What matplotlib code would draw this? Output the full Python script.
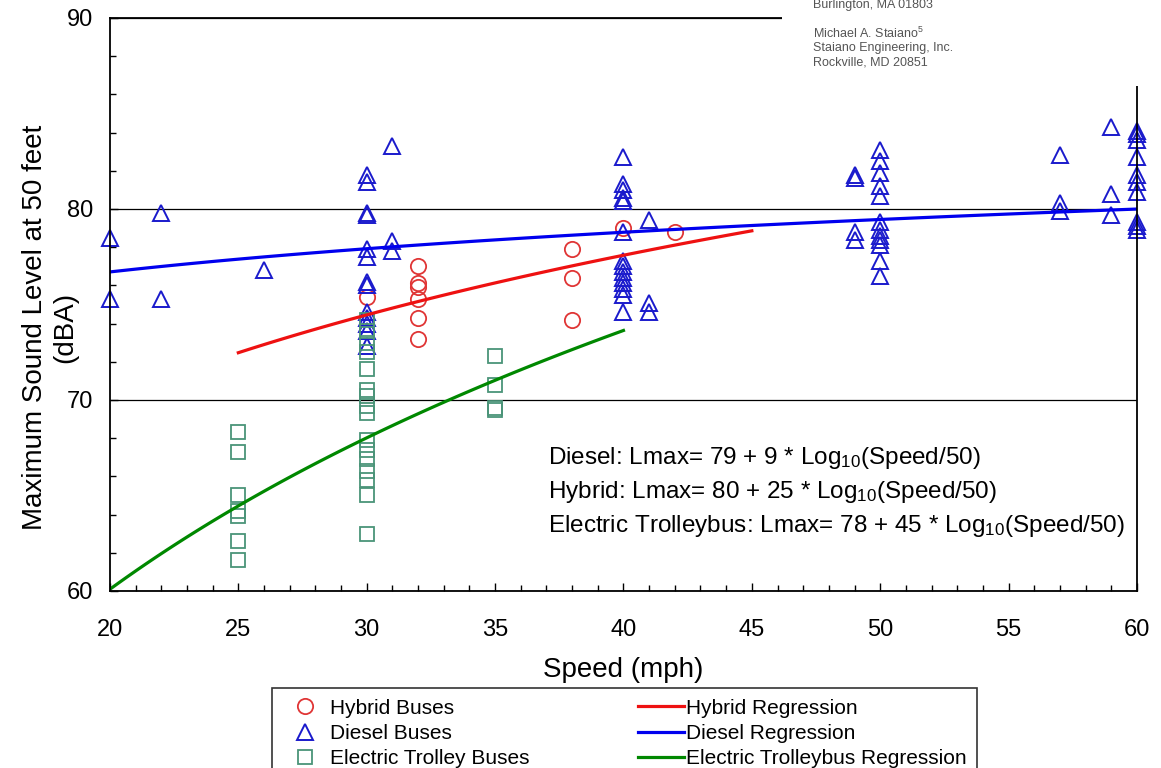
import numpy as np
import matplotlib
matplotlib.use("Agg")
import matplotlib.pyplot as plt
from matplotlib.ticker import MultipleLocator
from matplotlib.patches import Rectangle

plt.rcParams['font.family'] = ['Liberation Sans', 'DejaVu Sans']
plt.rcParams['mathtext.fontset'] = 'custom'
plt.rcParams['mathtext.rm'] = 'Liberation Sans'
plt.rcParams['mathtext.default'] = 'regular'

# measured points (speed mph, Lmax dBA)
hybrid_speed = [30, 32, 32, 32, 32, 32, 32, 38, 38, 38, 40, 42]
hybrid_lmax = [75.4, 77.0, 76.1, 75.9, 75.3, 74.3, 73.2, 77.9, 76.4, 74.2, 79.0, 78.8]

diesel_speed = [20, 20, 22, 22, 26,
                30, 30, 30, 30, 30, 30, 30, 30, 30, 30, 30, 30, 30,
                31, 31, 31,
                40, 40, 40, 40, 40, 40, 40, 40, 40, 40, 40, 40, 40, 40,
                41, 41, 41,
                49, 49, 49, 49,
                50, 50, 50, 50, 50, 50, 50, 50, 50, 50, 50, 50,
                57, 57, 57,
                59, 59, 59,
                60, 60, 60, 60, 60, 60, 60, 60, 60, 60]
diesel_lmax = [78.5, 75.3, 79.8, 75.3, 76.8,
               81.8, 81.4, 79.8, 79.7, 77.9, 77.5, 76.2, 76.0, 74.6, 74.3, 74.0, 73.6, 72.8,
               83.3, 78.3, 77.8,
               82.7, 81.3, 81.0, 80.6, 80.4, 78.8, 77.3, 77.0, 76.7, 76.4, 76.1, 75.8, 75.5, 74.6,
               79.4, 75.1, 74.6,
               81.8, 81.6, 78.8, 78.4,
               83.1, 82.5, 81.9, 81.2, 80.7, 79.3, 78.9, 78.6, 78.4, 78.1, 77.3, 76.5,
               82.8, 80.3, 79.9,
               84.3, 80.8, 79.7,
               84.1, 83.9, 83.6, 82.7, 81.8, 81.4, 80.9, 79.3, 79.1, 78.9]

trolley_speed = [25, 25, 25, 25, 25, 25, 25,
                 30, 30, 30, 30, 30, 30, 30, 30, 30, 30, 30, 30, 30, 30, 30, 30,
                 35, 35, 35, 35]
trolley_lmax = [68.3, 67.3, 65.0, 64.2, 63.9, 62.6, 61.6,
                74.2, 73.6, 73.0, 72.5, 71.6, 70.5, 70.2, 69.7, 69.3,
                67.9, 67.4, 66.9, 66.3, 65.8, 65.0, 63.0,
                72.3, 70.8, 69.6, 69.5]

# regression curves: Lmax = a + b*log10(speed/50), drawn over a speed range
hybrid_fit = (80, 25, 25, 45)
diesel_fit = (79.45, 6.9, 20, 60)
trolley_fit = (78, 45, 20, 40)

fig = plt.figure(figsize=(11.61, 7.68), dpi=100)
ax = fig.add_axes([0.0947, 0.2305, 0.8846, 0.7461])

ax.plot(hybrid_speed, hybrid_lmax, 'o', ls='none', mfc='none', mec='#e03535',
        ms=11, mew=1.3, label='Hybrid Buses', clip_on=False)
ax.plot(diesel_speed, diesel_lmax, '^', ls='none', mfc='none', mec='#1a1acc',
        ms=12, mew=1.4, label='Diesel Buses', clip_on=False)
ax.plot(trolley_speed, trolley_lmax, 's', ls='none', mfc='none', mec='#4a9478',
        ms=10.5, mew=1.3, label='Electric Trolley Buses', clip_on=False)

for (a, b, s0, s1), col, lab in [(hybrid_fit, '#ee1111', 'Hybrid Regression'),
                                 (diesel_fit, '#0000ee', 'Diesel Regression'),
                                 (trolley_fit, '#008800', 'Electric Trolleybus Regression')]:
    s = np.linspace(s0, s1, 100)
    ax.plot(s, a + b * np.log10(s / 50), color=col, lw=2.3, label=lab)

ax.set_xlim(20, 60)
ax.set_ylim(60, 90)
ax.xaxis.set_major_locator(MultipleLocator(5))
ax.xaxis.set_minor_locator(MultipleLocator(1))
ax.yaxis.set_major_locator(MultipleLocator(10))
ax.yaxis.set_minor_locator(MultipleLocator(2))
ax.tick_params(which='both', direction='in', top=False, right=False)
ax.tick_params(which='major', length=6, width=1)
ax.tick_params(which='minor', length=4, width=1)
ax.tick_params(axis='x', labelsize=17, pad=20)
ax.tick_params(axis='y', labelsize=17, pad=12)
ax.yaxis.grid(True, which='major', color='black', lw=0.9)
for sp in ax.spines.values():
    sp.set_linewidth(1.3)

ax.set_xlabel('Speed (mph)', fontsize=20, labelpad=12)
# y label as two separate lines
ax.text(-0.073, 0.46, 'Maximum Sound Level at 50 feet', transform=ax.transAxes,
        fontsize=20, rotation=90, ha='center', va='center')
ax.text(-0.044, 0.46, '(dBA)', transform=ax.transAxes,
        fontsize=20, rotation=90, ha='center', va='center')

eqs = ['Diesel: Lmax= 79 + 9 * Log$_{10}$(Speed/50)',
       'Hybrid: Lmax= 80 + 25 * Log$_{10}$(Speed/50)',
       'Electric Trolleybus: Lmax= 78 + 45 * Log$_{10}$(Speed/50)']
for i, t in enumerate(eqs):
    ax.text(0.4265, 0.232 - i * 0.059, t, transform=ax.transAxes,
            fontsize=17.5, va='center', ha='left')

fig.legend(loc='upper left', bbox_to_anchor=(0.234, 0.104), ncol=2,
           fontsize=15, frameon=True, fancybox=False, edgecolor='black',
           handlelength=2.2, columnspacing=5.2, labelspacing=0.3,
           borderpad=0.5, borderaxespad=0, handletextpad=0.1).get_frame().set_linewidth(1.2)

# pasted fragment of the paper header covering the top-right corner
fig.patches.append(Rectangle((0.6735, 0.888), 0.33, 0.12, transform=fig.transFigure,
                             facecolor='white', edgecolor='none', zorder=5))
hdr = ['Burlington, MA 01803', 'Michael A. Staiano$^5$', 'Staiano Engineering, Inc.',
       'Rockville, MD 20851']
ys = [0.993, 0.957, 0.937, 0.918]
for t, y in zip(hdr, ys):
    fig.text(0.700, y, t, fontsize=9, color='#555555', va='center', zorder=6)

fig.savefig('out.png', dpi=100)
